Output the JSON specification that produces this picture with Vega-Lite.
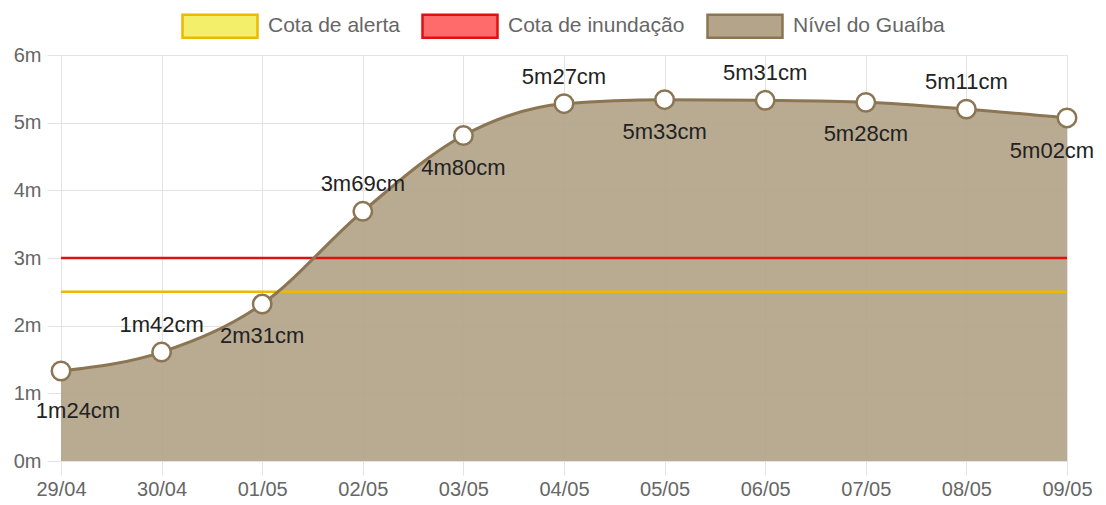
{
  "$schema": "https://vega.github.io/schema/vega-lite/v6.json",
  "width": 1006,
  "height": 406,
  "autosize": {"type": "none"},
  "padding": {"left": 61, "top": 55, "right": 39, "bottom": 44},
  "background": "white",
  "datasets": {
    "nivel": [
      {"data": "29/04", "nivel": 1.33, "rotulo": "1m24cm"},
      {"data": "30/04", "nivel": 1.61, "rotulo": "1m42cm"},
      {"data": "01/05", "nivel": 2.32, "rotulo": "2m31cm"},
      {"data": "02/05", "nivel": 3.69, "rotulo": "3m69cm"},
      {"data": "03/05", "nivel": 4.81, "rotulo": "4m80cm"},
      {"data": "04/05", "nivel": 5.28, "rotulo": "5m27cm"},
      {"data": "05/05", "nivel": 5.34, "rotulo": "5m33cm"},
      {"data": "06/05", "nivel": 5.33, "rotulo": "5m31cm"},
      {"data": "07/05", "nivel": 5.30, "rotulo": "5m28cm"},
      {"data": "08/05", "nivel": 5.20, "rotulo": "5m11cm"},
      {"data": "09/05", "nivel": 5.07, "rotulo": "5m02cm"}
    ],
    "cotas": [
      {"serie": "Cota de alerta", "cota": 2.5},
      {"serie": "Cota de inundação", "cota": 3.0}
    ]
  },
  "config": {
    "view": {"stroke": null},
    "font": "Liberation Sans",
    "axis": {
      "labelFont": "Liberation Sans",
      "labelFontSize": 20,
      "labelColor": "#666666",
      "gridColor": "#e3e3e3",
      "gridWidth": 1,
      "tickColor": "#e3e3e3",
      "tickSize": 14,
      "domain": false,
      "title": null
    },
    "legend": {
      "labelFont": "Liberation Sans",
      "labelFontSize": 21,
      "labelColor": "#666666",
      "labelLimit": 0,
      "symbolType": "M-1,-0.306H1V0.306H-1Z",
      "symbolSize": 5625,
      "symbolStrokeWidth": 2.5,
      "symbolOpacity": 1,
      "labelOffset": 9,
      "columnPadding": 17
    }
  },
  "encoding": {
    "x": {
      "field": "data",
      "type": "ordinal",
      "sort": null,
      "scale": {"type": "point", "padding": 0},
      "axis": {"labelAngle": 0, "labelPadding": 4, "grid": true}
    }
  },
  "layer": [
    {
      "data": {"name": "nivel"},
      "mark": {"type": "area", "interpolate": "monotone", "opacity": 0.93},
      "encoding": {
        "y": {
          "field": "nivel",
          "type": "quantitative",
          "scale": {"domain": [0, 6]},
          "axis": {"tickCount": 6, "labelExpr": "datum.value + 'm'", "labelPadding": 6}
        },
        "fill": {
          "datum": "Nível do Guaíba",
          "type": "nominal",
          "scale": {
            "domain": ["Cota de alerta", "Cota de inundação", "Nível do Guaíba"],
            "range": ["#f4ef6a", "#ff6b6b", "#b4a48a"]
          },
          "legend": {
            "title": null,
            "orient": "none",
            "direction": "horizontal",
            "legendX": 120,
            "legendY": -68
          }
        }
      }
    },
    {
      "data": {"name": "cotas"},
      "mark": {"type": "rule", "strokeWidth": 2.5},
      "encoding": {
        "x": null,
        "y": {"field": "cota", "type": "quantitative"},
        "stroke": {
          "field": "serie",
          "type": "nominal",
          "scale": {
            "domain": ["Cota de alerta", "Cota de inundação", "Nível do Guaíba"],
            "range": ["#ecb800", "#e01010", "#8b7553"]
          },
          "legend": {
            "title": null,
            "orient": "none",
            "direction": "horizontal",
            "legendX": 120,
            "legendY": -68
          }
        }
      }
    },
    {
      "data": {"name": "nivel"},
      "mark": {"type": "line", "interpolate": "monotone", "strokeWidth": 3},
      "encoding": {
        "y": {"field": "nivel", "type": "quantitative"},
        "stroke": {"datum": "Nível do Guaíba", "type": "nominal"}
      }
    },
    {
      "data": {"name": "nivel"},
      "mark": {"type": "point", "shape": "circle", "filled": false, "fill": "white", "fillOpacity": 1, "stroke": "#8b7553", "strokeWidth": 2.5, "size": 340, "opacity": 1},
      "encoding": {
        "y": {"field": "nivel", "type": "quantitative"}
      }
    },
    {
      "data": {"name": "nivel"},
      "transform": [{"filter": {"field": "data", "oneOf": ["30/04", "02/05", "04/05", "06/05", "08/05"]}}],
      "mark": {"type": "text", "fontSize": 22, "color": "#222222", "baseline": "middle", "dy": -27},
      "encoding": {
        "y": {"field": "nivel", "type": "quantitative"},
        "text": {"field": "rotulo"}
      }
    },
    {
      "data": {"name": "nivel"},
      "transform": [{"filter": {"field": "data", "oneOf": ["01/05", "03/05", "05/05", "07/05"]}}],
      "mark": {"type": "text", "fontSize": 22, "color": "#222222", "baseline": "middle", "dy": 32},
      "encoding": {
        "y": {"field": "nivel", "type": "quantitative"},
        "text": {"field": "rotulo"}
      }
    },
    {
      "data": {"name": "nivel"},
      "transform": [{"filter": {"field": "data", "equal": "29/04"}}],
      "mark": {"type": "text", "fontSize": 22, "color": "#222222", "baseline": "middle", "dy": 40, "dx": 17},
      "encoding": {
        "y": {"field": "nivel", "type": "quantitative"},
        "text": {"field": "rotulo"}
      }
    },
    {
      "data": {"name": "nivel"},
      "transform": [{"filter": {"field": "data", "equal": "09/05"}}],
      "mark": {"type": "text", "fontSize": 22, "color": "#222222", "baseline": "middle", "dy": 33, "dx": -15},
      "encoding": {
        "y": {"field": "nivel", "type": "quantitative"},
        "text": {"field": "rotulo"}
      }
    }
  ]
}
